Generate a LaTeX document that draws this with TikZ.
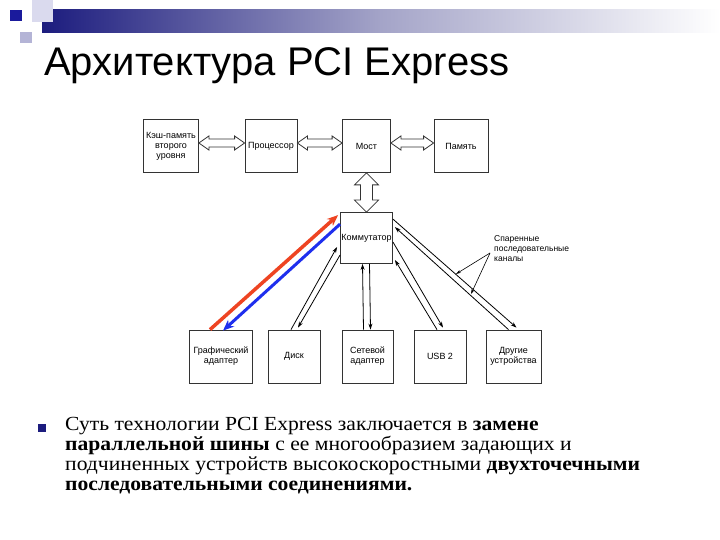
\documentclass[tikz,border=0pt]{standalone}
\usepackage{fontspec}
\setmainfont{Liberation Serif}[FakeStretch=1.08]
\newfontfamily\arialfont{Liberation Sans}
\usepackage{xcolor}
\usetikzlibrary{arrows.meta,calc}
\definecolor{barnavy}{HTML}{1C1C7E}
\definecolor{barmid}{HTML}{A4A4C8}
\definecolor{sqdark}{HTML}{1A1A9C}
\definecolor{sqlight}{HTML}{DADAEE}
\definecolor{sqmid}{HTML}{B4B4D6}
\definecolor{redlink}{HTML}{EE4422}
\definecolor{bluelink}{HTML}{1F2FEE}
\definecolor{boxline}{HTML}{333333}

\tikzset{
  box/.style={draw=boxline, line width=0.8pt, minimum height=53pt, inner sep=1pt,
    align=center, font=\arialfont\fontsize{9}{10}\selectfont},
  link/.style={line width=0.8pt, -{Stealth[length=6pt,width=4pt]}},
  pointer/.style={line width=0.6pt, -{Stealth[length=5pt,width=3pt]}},
  hollow/.style={draw=boxline, line width=0.8pt, fill=white, line join=miter},
}

% hollow two-way arrows between boxes
\newcommand{\harrow}[2]{%
  \draw[hollow] ($(#1.east)+(0,-3)$) -- ++(10,-7) -- ++(0,3) -- ($(#2.west)+(-10,-7)$)
    -- ++(0,-3) -- ($(#2.west)+(0,-3)$) -- ++(-10,7) -- ++(0,-3)
    -- ($(#1.east)+(10,1)$) -- ++(0,3) -- cycle;}
\newcommand{\varrow}[2]{%
  \draw[hollow] (#1.south) -- ++(-12,12) -- ++(6,0) -- ($(#2.north)+(-6,-12)$)
    -- ++(-6,0) -- (#2.north) -- ++(12,-12) -- ++(-6,0)
    -- ($(#1.south)+(6,12)$) -- ++(6,0) -- cycle;}

\begin{document}
\begin{tikzpicture}[x=1pt,y=-1pt]
\useasboundingbox (0,0) rectangle (720,540);
\fill[white] (0,0) rectangle (720,540);

% slide header
\shade[left color=barnavy, right color=white, middle color=barmid] (42,10) rectangle (720,33);
\fill[sqlight] (32,0) rectangle (53,22);
\fill[sqmid] (20,32) rectangle (32,43);
\fill[sqdark] (10,10) rectangle (22,21);
\node[anchor=base west, inner sep=0, font=\arialfont\fontsize{40}{40}\selectfont] (title) at (44,76)
  {Архитектура PCI Express};

% top row
\node[box, minimum width=55pt] (cache) at (171,146) {Кэш-память\\второго\\уровня};
\node[box, minimum width=52pt] (cpu) at (271,146) {Процессор};
\node[box, minimum width=48pt] (bridge) at (366.5,146) {Мост};
\node[box, minimum width=54pt] (mem) at (461,146) {Память};
\harrow{cache}{cpu}
\harrow{cpu}{bridge}
\harrow{bridge}{mem}

% switch
\node[box, minimum width=50pt, minimum height=51pt] (switch) at (366.5,238) {Коммутатор};
\varrow{bridge}{switch}

% bottom row
\node[box, minimum width=63pt] (gfx) at (221,356.5) {Графический\\адаптер};
\node[box, minimum width=52pt] (disk) at (294,356.5) {Диск};
\node[box, minimum width=51pt] (nic) at (367.5,356.5) {Сетевой\\адаптер};
\node[box, minimum width=52pt] (usb) at (440,356.5) {USB 2};
\node[box, minimum width=55pt] (other) at (513.5,356.5) {Другие\\устройства};

% serial links
\draw[redlink, line width=3.5pt, -{Stealth[length=11pt,width=9pt]}]
  ([xshift=-11pt]gfx.north) -- ([xshift=-2pt,yshift=-3pt]switch.north west);
\draw[bluelink, line width=3pt, -{Stealth[length=11pt,width=9pt]}]
  ([yshift=-12pt]switch.north west) -- ([xshift=2pt,yshift=-1pt]gfx.north);
\draw[link] ([xshift=-3pt]disk.north) -- ([xshift=-3pt,yshift=-9pt]switch.west);
\draw[link] ([yshift=-17pt]switch.west) -- ([xshift=4pt,yshift=2pt]disk.north);
\draw[link] ([xshift=-4pt]nic.north) -- ([xshift=-4pt]switch.south);
\draw[link] ([xshift=3pt]switch.south) -- ([xshift=3pt]nic.north);
\draw[link] ([yshift=-4pt]switch.east) -- ([xshift=3pt,yshift=2pt]usb.north);
\draw[link] ([xshift=-3pt]usb.north) -- ([xshift=2pt,yshift=-22pt]switch.east);
\draw[link] ([yshift=-7pt]switch.north east) -- ([xshift=3pt,yshift=2pt]other.north);
\draw[link] ([xshift=-5pt]other.north) -- ([xshift=2pt,yshift=-15pt]switch.north east);

% note
\node[anchor=north west, inner sep=0, align=left, font=\arialfont\fontsize{8.5}{10}\selectfont] (note)
  at (494,235) {Спаренные\\последовательные\\каналы};
\coordinate (fork) at (490,253);
\coordinate (tipa) at (456,274);
\coordinate (tipb) at (471,294);
\draw[pointer] (fork) -- (tipa);
\draw[pointer] (fork) -- (tipb);

% bullet text
\node[fill=barnavy, minimum size=8pt, inner sep=0] (bullet) at (42,428) {};
\node[anchor=north west, inner sep=0, align=left, font=\fontsize{20}{20}\selectfont] (body) at (65,417)
  {Суть технологии PCI Express заключается в \textbf{замене}\\
   \textbf{параллельной шины} с ее многообразием задающих и\\
   подчиненных устройств высокоскоростными \textbf{двухточечными}\\
   \textbf{последовательными соединениями.}};
\end{tikzpicture}
\end{document}
